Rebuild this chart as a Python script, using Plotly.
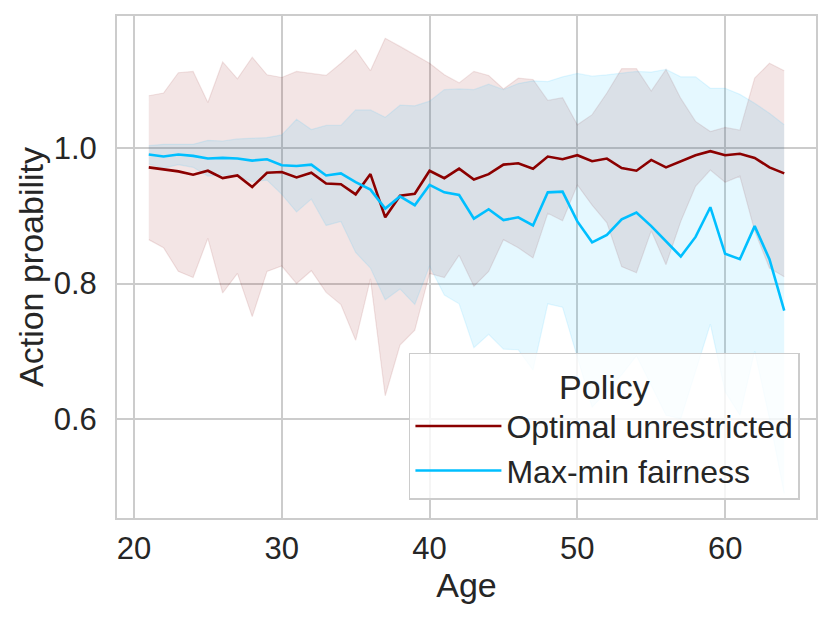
import plotly.graph_objects as go

ages = list(range(21, 65))

opt_mean = [0.972, 0.969, 0.966, 0.961, 0.967, 0.956, 0.960, 0.943, 0.964, 0.965,
            0.957, 0.964, 0.948, 0.947, 0.932, 0.962, 0.898, 0.930, 0.933, 0.967,
            0.956, 0.970, 0.954, 0.962, 0.976, 0.978, 0.970, 0.988, 0.984, 0.990,
            0.981, 0.985, 0.971, 0.967, 0.983, 0.972, 0.981, 0.990, 0.996, 0.990,
            0.992, 0.986, 0.972, 0.963]
opt_upper = [1.078, 1.082, 1.112, 1.114, 1.068, 1.128, 1.103, 1.135, 1.109, 1.105,
             1.114, 1.111, 1.108, 1.126, 1.146, 1.115, 1.163, 1.151, 1.138, 1.126,
             1.109, 1.097, 1.114, 1.108, 1.088, 1.104, 1.102, 1.071, 1.075, 1.035,
             1.050, 1.082, 1.118, 1.118, 1.085, 1.117, 1.074, 1.040, 1.025, 1.031,
             1.027, 1.104, 1.126, 1.115]
opt_lower = [0.865, 0.853, 0.818, 0.809, 0.867, 0.786, 0.815, 0.751, 0.818, 0.826,
             0.800, 0.819, 0.787, 0.769, 0.716, 0.807, 0.634, 0.709, 0.731, 0.815,
             0.809, 0.842, 0.796, 0.818, 0.865, 0.853, 0.838, 0.904, 0.893, 0.946,
             0.916, 0.890, 0.825, 0.816, 0.878, 0.828, 0.892, 0.944, 0.968, 0.950,
             0.959, 0.878, 0.823, 0.810]

fair_mean = [0.991, 0.988, 0.991, 0.989, 0.985, 0.986, 0.985, 0.982, 0.984, 0.975,
             0.974, 0.976, 0.960, 0.963, 0.950, 0.939, 0.911, 0.929, 0.916, 0.946,
             0.935, 0.931, 0.896, 0.910, 0.894, 0.898, 0.886, 0.935, 0.936, 0.892,
             0.861, 0.872, 0.895, 0.905, 0.885, 0.862, 0.840, 0.869, 0.913, 0.844,
             0.836, 0.885, 0.836, 0.760]
fair_upper = [1.004, 1.006, 1.006, 1.006, 1.012, 1.011, 1.014, 1.015, 1.016, 1.020,
              1.043, 1.028, 1.034, 1.034, 1.057, 1.057, 1.046, 1.064, 1.063, 1.070,
              1.087, 1.088, 1.087, 1.095, 1.087, 1.096, 1.100, 1.099, 1.106, 1.111,
              1.107, 1.109, 1.112, 1.114, 1.113, 1.117, 1.106, 1.106, 1.089, 1.089,
              1.080, 1.067, 1.052, 1.035]
fair_lower = [0.977, 0.971, 0.976, 0.972, 0.959, 0.961, 0.959, 0.951, 0.953, 0.932,
              0.906, 0.925, 0.886, 0.892, 0.846, 0.823, 0.776, 0.792, 0.769, 0.826,
              0.783, 0.770, 0.705, 0.725, 0.703, 0.702, 0.672, 0.770, 0.765, 0.692,
              0.617, 0.640, 0.665, 0.693, 0.649, 0.605, 0.600, 0.670, 0.740, 0.640,
              0.605, 0.700, 0.600, 0.489]

series_names = ["Optimal unrestricted", "Max-min fairness"]
line_colors = ["#8b0000", "#00bfff"]
band_fill = ["rgba(139,0,0,0.1)", "rgba(0,191,255,0.1)"]
x_ticks = [20, 30, 40, 50, 60]
y_ticks = [0.6, 0.8, 1.0]

FONT = "Liberation Sans, Arial, sans-serif"
TXT = "#262626"
GRID = "#cccccc"

fig = go.Figure()

bands = [(opt_lower, opt_upper), (fair_lower, fair_upper)]
for (lo, hi), fc in zip(bands, band_fill):
    fig.add_trace(go.Scatter(x=ages, y=lo, mode="lines",
                             line=dict(color=fc, width=1.2),
                             showlegend=False, hoverinfo="skip"))
    fig.add_trace(go.Scatter(x=ages, y=hi, mode="lines", fill="tonexty",
                             fillcolor=fc, line=dict(color=fc, width=1.2),
                             showlegend=False, hoverinfo="skip"))

for name, ys, col in zip(series_names, [opt_mean, fair_mean], line_colors):
    fig.add_trace(go.Scatter(x=ages, y=ys, mode="lines", name=name,
                             line=dict(color=col, width=2.6)))

# page body adds an 8px margin; figure is sized to fit the 830x620 window
fig.update_layout(
    width=822, height=612,
    margin=dict(l=109, r=14, t=6, b=102),
    paper_bgcolor="white", plot_bgcolor="white",
    font=dict(family=FONT, color=TXT, size=31),
    showlegend=True,
    legend=dict(
        title=dict(text="Policy", font=dict(size=34, color=TXT), side="top center"),
        font=dict(size=32, color=TXT),
        traceorder="normal",
        x=0.977, y=0.036, xanchor="right", yanchor="bottom",
        bgcolor="rgba(255,255,255,0.8)", bordercolor=GRID, borderwidth=1.5,
        itemwidth=86, tracegroupgap=0,
    ),
)

fig.update_xaxes(
    range=[18.85, 66.15], tickvals=x_ticks,
    showgrid=True, gridcolor=GRID, gridwidth=1.6,
    showline=True, linecolor=GRID, linewidth=2, mirror=True,
    zeroline=False, ticks="", ticklabelstandoff=2,
    tickfont=dict(size=31, color=TXT),
    title=dict(text="Age", font=dict(size=34, color=TXT), standoff=5),
)
fig.update_yaxes(
    range=[0.453, 1.196], tickvals=y_ticks, tickformat=".1f",
    showgrid=True, gridcolor=GRID, gridwidth=1.6,
    showline=True, linecolor=GRID, linewidth=2, mirror=True,
    zeroline=False, ticks="", ticklabelstandoff=12,
    tickfont=dict(size=31, color=TXT),
    title=dict(text="Action proability", font=dict(size=34, color=TXT), standoff=0),
)

fig.write_html("out.html")
